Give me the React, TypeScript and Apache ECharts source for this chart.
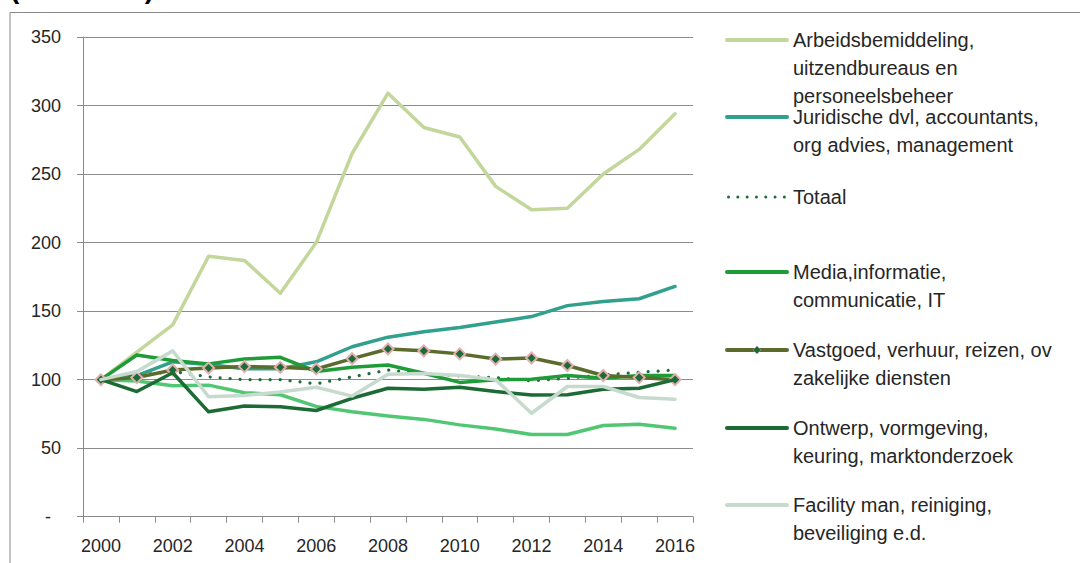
import React, { useEffect, useRef } from "react";
import * as echarts from "echarts";

const years = ["2000","2001","2002","2003","2004","2005","2006","2007","2008","2009","2010","2011","2012","2013","2014","2015","2016"];

const arbeids = [100, 120, 140, 190, 187, 163, 200, 265, 309, 284, 277, 241, 224, 225, 250, 268, 294];
const juridisch = [100, 103, 113, 111, 108, 108, 113, 124, 131, 135, 138, 142, 146, 154, 157, 159, 168];
const totaal = [100, 103, 106, 102, 100, 100, 97, 102, 107, 104.5, 102.7, 101.5, 99, 101, 103.5, 105.4, 107];
const overig = [100, 99, 95.5, 96, 90.5, 89, 80.5, 76.5, 73.5, 71, 67, 64, 60, 60, 66.5, 67.4, 64.5];
const media = [100, 118, 114, 111.5, 115, 116.3, 106, 109, 110.7, 104.7, 98, 100, 100.3, 103, 101, 103, 103];
const vastgoed = [100, 101.5, 107, 108.5, 109.5, 109, 107.8, 115.3, 122.4, 121, 118.8, 115, 115.8, 110.3, 103, 101.5, 100];
const ontwerp = [100, 91.3, 105, 76.5, 80.8, 80.3, 77.5, 86.4, 93.7, 93, 94.4, 91.3, 88.8, 89, 93, 93.7, 100];
const facility = [100, 106, 121, 87.5, 88.5, 91, 94.5, 88, 104, 104.5, 103, 100, 75.5, 95, 95, 87, 85.7];

const yTicks = [0, 50, 100, 150, 200, 250, 300, 350];

const seriesNames = [
  "Arbeidsbemiddeling, uitzendbureaus en personeelsbeheer",
  "Juridische dvl, accountants, org advies, management",
  "Totaal",
  "Overig",
  "Media,informatie, communicatie, IT",
  "Vastgoed, verhuur, reizen, ov zakelijke diensten",
  "Ontwerp, vormgeving, keuring, marktonderzoek",
  "Facility man, reiniging, beveiliging e.d.",
];
const seriesData = [arbeids, juridisch, totaal, overig, media, vastgoed, ontwerp, facility];

const legendLabels = [
  ["Arbeidsbemiddeling,", "uitzendbureaus en", "personeelsbeheer"],
  ["Juridische dvl, accountants,", "org advies, management"],
  ["Totaal"],
  ["Media,informatie,", "communicatie, IT"],
  ["Vastgoed, verhuur, reizen, ov", "zakelijke diensten"],
  ["Ontwerp, vormgeving,", "keuring, marktonderzoek"],
  ["Facility man, reiniging,", "beveiliging e.d."],
];
const legendSeriesIndex = [0, 1, 2, 4, 5, 6, 7];

const titleText = "(2000=100)";

const colors = ["#C3D69B", "#31A08C", "#1E6B3A", "#52C773", "#1F9C38", "#5B6B2C", "#1C6A34", "#C6DACD"];
const FONT = "'Liberation Sans', Arial, sans-serif";

export default function App() {
  const ref = useRef<HTMLDivElement>(null);
  useEffect(() => {
    if (!ref.current) return;
    const chart = echarts.init(ref.current, null, { renderer: "svg" });

    const legendY = [40, 117, 197, 272, 350, 428, 505];
    const graphics: any[] = [
      {
        type: "polyline",
        shape: { points: [[10, 563], [10, 12.5], [1080, 12.5]] },
        style: { stroke: "#8a8a8a", lineWidth: 1, fill: null },
        silent: true,
      },
      {
        type: "text",
        x: 10,
        y: -26,
        style: { text: titleText, font: `bold 28px ${FONT}`, fill: "#000", verticalAlign: "top" },
      },
    ];
    legendLabels.forEach((lines, i) => {
      const si = legendSeriesIndex[i];
      const y = legendY[i];
      const dotted = si === 2;
      graphics.push({
        type: "line",
        shape: { x1: dotted ? 728.5 : 727, y1: y, x2: 787, y2: y },
        style: {
          stroke: colors[si],
          lineWidth: dotted ? 3 : 4,
          lineDash: dotted ? [0.01, 9.3] : null,
          lineCap: "round",
        },
      });
      if (si === 5) {
        graphics.push({
          type: "polygon",
          shape: { points: [[757, y - 4], [761, y], [757, y + 4], [753, y]] },
          style: { fill: "#1E6B3A", stroke: "#C8A0A0", lineWidth: 0.5 },
        });
      }
      graphics.push({
        type: "text",
        x: 793,
        y: y - 14,
        style: {
          text: lines.join("\n"),
          font: `20px ${FONT}`,
          lineHeight: 28,
          fill: "#262626",
          verticalAlign: "top",
        },
      });
    });

    chart.setOption({
      animation: false,
      grid: { left: 83, right: 387, top: 37, bottom: 46.3, containLabel: false },
      xAxis: {
        type: "category",
        data: years,
        boundaryGap: true,
        axisLine: { show: true, lineStyle: { color: "#8a8a8a", width: 1 } },
        axisTick: { show: true, interval: 0, length: 6, lineStyle: { color: "#8a8a8a" } },
        axisLabel: { interval: 1, margin: 20, fontFamily: FONT, fontSize: 18, color: "#262626" },
        splitLine: { show: false },
      },
      yAxis: {
        type: "value",
        min: yTicks[0],
        max: yTicks[yTicks.length - 1],
        interval: 50,
        axisLine: { show: true, lineStyle: { color: "#8a8a8a", width: 1 } },
        axisTick: { show: true, length: 6, lineStyle: { color: "#8a8a8a" } },
        axisLabel: {
          margin: 22,
          fontFamily: FONT,
          fontSize: 18,
          color: "#262626",
          formatter: (v: number) => (v === 0 ? "{d|-}" : String(v)),
          rich: { d: { padding: [0, 10, 0, 0], fontFamily: FONT, fontSize: 18, color: "#262626" } },
        },
        splitLine: { show: true, lineStyle: { color: "#8c8c8c", width: 1 } },
      },
      series: seriesData.map((d, i) => ({
        type: "line",
        name: seriesNames[i],
        data: d,
        smooth: false,
        symbol: i === 5 ? "diamond" : "none",
        symbolSize: i === 5 ? 11 : 0,
        showSymbol: i === 5,
        lineStyle: {
          color: colors[i],
          width: i === 2 ? 3.2 : 3.5,
          type: i === 2 ? [0.01, 10] : "solid",
          cap: "round",
          join: "round",
        },
        itemStyle: i === 5 ? { color: "#1E6B3A", borderColor: "#E2AFAF", borderWidth: 2 } : { color: colors[i] },
        emphasis: { disabled: true },
        z: 2 + i,
      })),
      graphic: graphics,
    });

    return () => chart.dispose();
  }, []);

  return (
    <div
      ref={ref}
      style={{ position: "absolute", left: 0, top: 0, width: 1080, height: 563, background: "#fff" }}
    />
  );
}
